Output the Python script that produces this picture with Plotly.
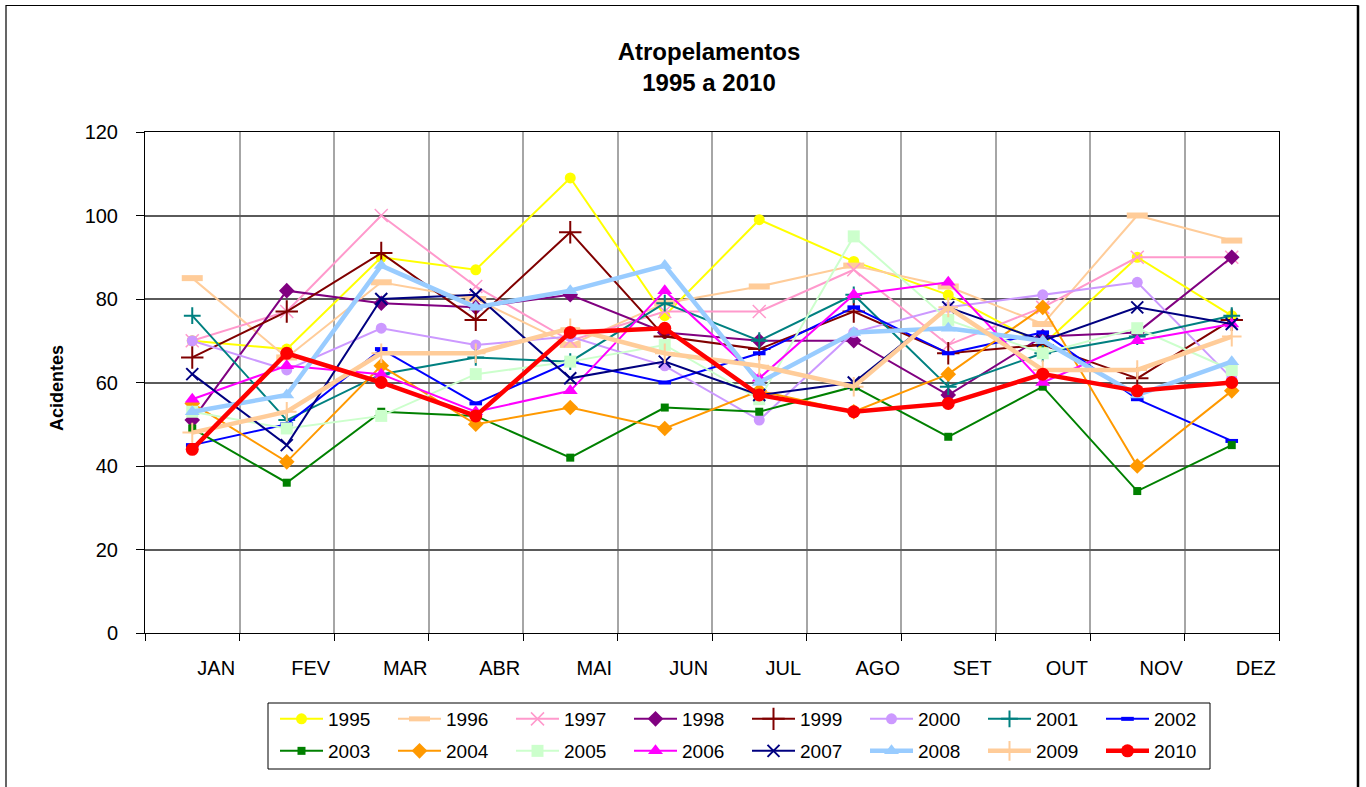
import plotly.graph_objects as go

# Monthly pedestrian accidents ("atropelamentos"), 1995-2010
months = ["JAN", "FEV", "MAR", "ABR", "MAI", "JUN", "JUL", "AGO", "SET", "OUT", "NOV", "DEZ"]

y1995 = [70, 68, 90, 87, 109, 76, 99, 89, 81, 69, 90, 76]
y1996 = [85, 66, 84, 80, 69, 79, 83, 88, 83, 74, 100, 94]
y1997 = [70, 77, 100, 83, 70, 77, 77, 87, 69, 78, 90, 90]
y1998 = [51, 82, 79, 78, 81, 72, 70, 70, 57, 71, 72, 90]
y1999 = [66, 77, 91, 75, 96, 71, 68, 77, 67, 69, 61, 75]
y2000 = [70, 63, 73, 69, 71, 64, 51, 72, 78, 81, 84, 61]
y2001 = [76, 51, 62, 66, 65, 79, 70, 81, 59, 67, 71, 76]
y2002 = [45, 50, 68, 55, 65, 60, 67, 78, 67, 72, 56, 46]
y2003 = [49, 36, 53, 52, 42, 54, 53, 59, 47, 59, 34, 45]
y2004 = [55, 41, 64, 50, 54, 49, 58, 53, 62, 78, 40, 58]
y2005 = [53, 49, 52, 62, 65, 69, 56, 95, 75, 67, 73, 63]
y2006 = [56, 64, 62, 53, 58, 82, 61, 81, 84, 60, 70, 74]
y2007 = [62, 45, 80, 81, 61, 65, 57, 60, 78, 70, 78, 74]
y2008 = [53, 57, 88, 78, 82, 88, 60, 72, 73, 70, 57, 65]
y2009 = [48, 53, 67, 67, 73, 67, 64, 59, 78, 63, 63, 71]
y2010 = [44, 67, 60, 52, 72, 73, 57, 53, 55, 62, 58, 60]

series = [
    ("1995", y1995), ("1996", y1996), ("1997", y1997), ("1998", y1998),
    ("1999", y1999), ("2000", y2000), ("2001", y2001), ("2002", y2002),
    ("2003", y2003), ("2004", y2004), ("2005", y2005), ("2006", y2006),
    ("2007", y2007), ("2008", y2008), ("2009", y2009), ("2010", y2010),
]

# line colour, line width, marker symbol, marker size, marker outline width
styles = {
    "1995": ("#FFFF00", 2, "circle", 11, 0),
    "1996": ("#FFCC99", 2, "line-ew", 15, 6),
    "1997": ("#FF99CC", 2, "x-thin", 13, 1.5),
    "1998": ("#800080", 2, "diamond", 12, 0),
    "1999": ("#800000", 2, "cross-thin", 16, 2),
    "2000": ("#CC99FF", 2, "circle", 11, 0),
    "2001": ("#008080", 2, "cross-thin", 12, 2),
    "2002": ("#0000FF", 2, "line-ew", 9, 4),
    "2003": ("#008000", 2, "square", 8, 0),
    "2004": ("#FF9900", 2, "diamond", 12, 0),
    "2005": ("#CCFFCC", 2, "square", 12, 0),
    "2006": ("#FF00FF", 2, "triangle-up", 13, 0),
    "2007": ("#000080", 2, "x-thin", 12, 2),
    "2008": ("#99CCFF", 4.5, "triangle-up", 13, 0),
    "2009": ("#FFCC99", 4.5, "cross-thin", 14, 2),
    "2010": ("#FF0000", 4.5, "circle", 13, 0),
}

FONT = "Liberation Sans, Arial, sans-serif"

fig = go.Figure()
for i, (name, vals) in enumerate(series):
    color, lw, sym, size, mlw = styles[name]
    marker = dict(symbol=sym, size=size, color=color)
    if mlw:
        marker["line"] = dict(color=color, width=mlw)
    else:
        marker["line"] = dict(width=0)
    fig.add_trace(go.Scatter(
        x=months, y=vals, name=name, mode="lines+markers",
        line=dict(color=color, width=lw), marker=marker,
        legend="legend" if i < 8 else "legend2",
    ))

W, H = 1366, 787
L, R, T, B = 145, 87, 132, 154
pw, ph = W - L - R, H - T - B


def px(xpix):
    return (xpix - L) / pw


def py(ypix):
    return (H - B - ypix) / ph


legend_common = dict(
    orientation="h", xanchor="left", yanchor="top",
    font=dict(family=FONT, size=19, color="black"),
    bgcolor="rgba(0,0,0,0)", borderwidth=0,
    itemwidth=43, entrywidth=60, entrywidthmode="pixels",
    traceorder="normal", itemclick=False, itemdoubleclick=False,
)

fig.update_layout(
    width=W, height=H,
    margin=dict(l=L, r=R, t=T, b=B, pad=0, autoexpand=False),
    paper_bgcolor="white", plot_bgcolor="white",
    font=dict(family=FONT, color="black", size=20),
    title=dict(
        text="<b>Atropelamentos<br>1995 a 2010</b>",
        font=dict(family=FONT, size=24, color="black"),
        xref="paper", x=px(709), xanchor="center",
        yref="container", y=1 - 59.5 / H, yanchor="middle",
    ),
    xaxis=dict(
        type="category", range=[-0.5, 11.5], tickson="boundaries",
        showgrid=True, gridcolor="#A6A6A6", gridwidth=2,
        showline=True, linecolor="black", linewidth=1, mirror=True,
        ticks="outside", ticklen=7, tickcolor="black", tickwidth=1,
        ticklabelshift=24, ticklabelstandoff=17,
        tickfont=dict(family=FONT, size=20, color="black"),
        zeroline=False,
    ),
    yaxis=dict(
        range=[0, 120], tickmode="linear", tick0=0, dtick=20,
        showgrid=True, gridcolor="#5A5A5A", gridwidth=1.5,
        showline=True, linecolor="black", linewidth=1, mirror=True,
        ticks="outside", ticklen=8, tickcolor="black", tickwidth=1,
        ticklabelstandoff=14,
        tickfont=dict(family=FONT, size=20, color="black"),
        zeroline=False,
    ),
    legend=dict(legend_common, x=px(275), y=py(700)),
    legend2=dict(legend_common, x=px(275), y=py(732)),
    annotations=[dict(
        text="<b>Acidentes</b>", textangle=-90,
        xref="paper", yref="paper", x=px(57), y=py(388),
        xanchor="center", yanchor="middle", showarrow=False,
        font=dict(family=FONT, size=18, color="black"),
    )],
    shapes=[
        # chart frame
        dict(type="rect", xref="paper", yref="paper",
             x0=px(6), x1=px(1358), y0=py(805), y1=py(5.5),
             line=dict(color="black", width=1.2), fillcolor="rgba(0,0,0,0)"),
        dict(type="line", xref="paper", yref="paper",
             x0=px(1358), x1=px(1358), y0=py(805), y1=py(5.5),
             line=dict(color="black", width=2.5)),
        # legend box
        dict(type="rect", xref="paper", yref="paper",
             x0=px(268), x1=px(1210), y0=py(769), y1=py(703),
             line=dict(color="black", width=1), fillcolor="rgba(0,0,0,0)"),
    ],
    showlegend=True,
)

fig.write_html("out.html")
